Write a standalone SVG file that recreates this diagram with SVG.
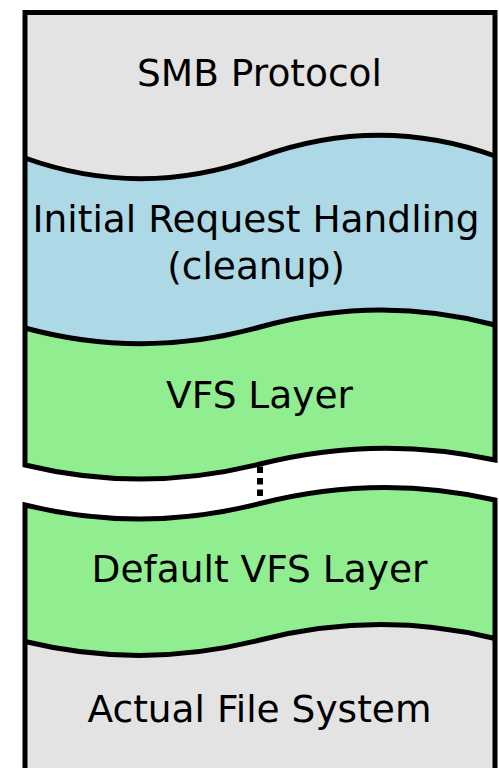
<svg xmlns="http://www.w3.org/2000/svg" width="499" height="768" viewBox="0 0 499 768">
  <style>
    .label { font-family: "DejaVu Sans", "Liberation Sans", sans-serif; font-size: 37.5px; fill: #000; text-anchor: middle; }
    .gray { fill: #e3e3e3; }
    .blue { fill: #add8e6; }
    .green { fill: #90ee90; }
    .edge { fill: none; stroke: #000; stroke-width: 5; stroke-linejoin: miter; }
    .gap { fill: none; stroke: #000; stroke-width: 6; stroke-dasharray: 6.5 5; }
  </style>
  <rect width="499" height="768" fill="#fff"/>

  <g id="smb-protocol">
    <path class="gray" d="M25,12.5 H495 V156 Q378,114 260,157 Q142,200 25,158 Z"/>
    <text class="label" x="259.5" y="86">SMB Protocol</text>
  </g>

  <g id="initial-request-handling">
    <path class="blue" d="M25,158 Q142,200 260,157 Q378,114 495,156 V325 Q378,294 260,327 Q142,360 25,328 Z"/>
    <text class="label" x="256" y="232">Initial Request Handling</text>
    <text class="label" x="256" y="279">(cleanup)</text>
  </g>

  <g id="vfs-layer">
    <path class="green" d="M25,328 Q142,360 260,327 Q378,294 495,325 V460 Q378,434.5 260,464 Q142,493.5 25,465 Z"/>
    <text class="label" x="259.5" y="408">VFS Layer</text>
  </g>

  <g id="default-vfs-layer">
    <path class="green" d="M25,505 Q142,533.75 260,503.5 Q378,473.25 495,500 V638.5 Q378,610 260,640 Q142,670 25,641.5 Z"/>
    <text class="label" x="259.5" y="582">Default VFS Layer</text>
  </g>

  <g id="actual-file-system">
    <path class="gray" d="M25,641.5 Q142,670 260,640 Q378,610 495,638.5 V768 H25 Z"/>
    <text class="label" x="259.5" y="722">Actual File System</text>
  </g>

  <g id="connectors">
    <!-- elided stack of further layers -->
    <line class="gap" x1="260" y1="466.5" x2="260" y2="497"/>
  </g>

  <g id="outlines">
    <!-- upper frame closed by the first break edge -->
    <path class="edge" d="M25,465 V12.5 H495 V460 Q378,434.5 260,464 Q142,493.5 25,465 Z"/>
    <!-- lower frame starting at the second break edge -->
    <path class="edge" d="M25,768 V505 Q142,533.75 260,503.5 Q378,473.25 495,500 V768"/>
    <!-- layer boundaries -->
    <path class="edge" d="M25,158 Q142,200 260,157 Q378,114 495,156"/>
    <path class="edge" d="M25,328 Q142,360 260,327 Q378,294 495,325"/>
    <path class="edge" d="M25,641.5 Q142,670 260,640 Q378,610 495,638.5"/>
  </g>
</svg>
